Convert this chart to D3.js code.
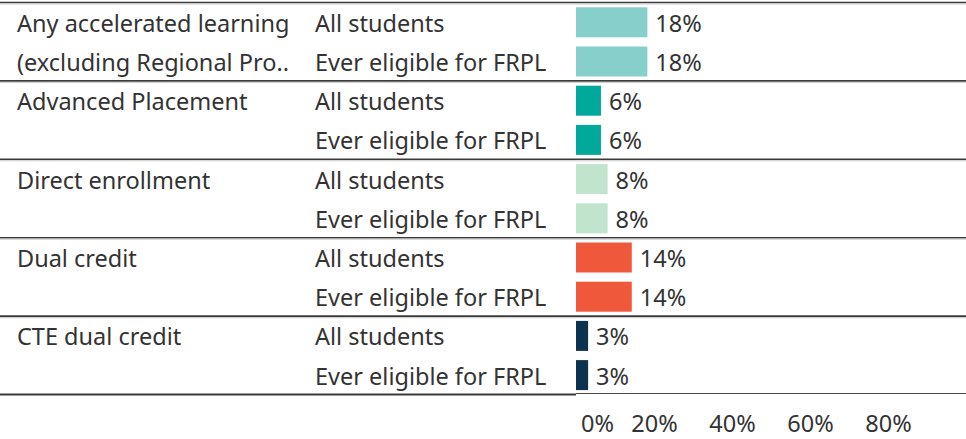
<!DOCTYPE html>
<html><head><meta charset="utf-8">
<script src="https://cdn.jsdelivr.net/npm/d3@7"></script>
<style>
html,body{margin:0;padding:0;background:#fff;}
svg{display:block;font-family:"Noto Sans",sans-serif;}
</style></head>
<body><svg id="chart" width="966" height="439"></svg>
<script>
const categories = [
  "Any accelerated learning\n(excluding Regional Pro..",
  "Advanced Placement",
  "Direct enrollment",
  "Dual credit",
  "CTE dual credit"
];
const groups = ["All students", "Ever eligible for FRPL"];
const valuesAll = [18.3, 6.4, 8.1, 14.3, 3.1];
const valuesFRPL = [18.3, 6.4, 8.1, 14.3, 3.1];
const labelsAll = ["18%", "6%", "8%", "14%", "3%"];
const labelsFRPL = ["18%", "6%", "8%", "14%", "3%"];
const colors = ["#86cfca", "#00a99b", "#c1e4cd", "#f0583b", "#0b3350"];
const tickValues = [0, 20, 40, 60, 80];

(function () {
const svg = d3.select("#chart");
const W = 966;
const topY = 2, bottomY = 394, paneLeft = 576;

const rows = [];
categories.forEach((c, i) => {
  rows.push({cat: i, grp: 0, v: valuesAll[i], lab: labelsAll[i]});
  rows.push({cat: i, grp: 1, v: valuesFRPL[i], lab: labelsFRPL[i]});
});

const yCat = d3.scaleBand().domain(d3.range(categories.length)).range([topY, bottomY]);
const yRow = d3.scaleBand().domain(d3.range(rows.length)).range([topY, bottomY]).paddingInner(0.235).paddingOuter(0.1175);
const x = d3.scaleLinear().domain([0, 100]).range([paneLeft, W]);

// separator lines
const seps = d3.range(categories.length).map(i => yCat(i));
svg.selectAll("line.sep").data(seps).join("line").attr("class", "sep")
  .attr("x1", 0).attr("x2", W)
  .attr("y1", d => d + 0.5).attr("y2", d => d + 0.5)
  .attr("stroke", "#3a3a3a").attr("stroke-width", 1.6);
svg.selectAll("line.sep2").data(seps).join("line").attr("class", "sep2")
  .attr("x1", 0).attr("x2", W)
  .attr("y1", d => d + 2).attr("y2", d => d + 2)
  .attr("stroke", "#c8c8c8").attr("stroke-width", 1);
svg.append("line").attr("x1", 0).attr("x2", paneLeft).attr("y1", bottomY + 0.5).attr("y2", bottomY + 0.5)
  .attr("stroke", "#3a3a3a").attr("stroke-width", 2);
svg.append("line").attr("x1", paneLeft).attr("x2", W).attr("y1", bottomY - 0.5).attr("y2", bottomY - 0.5)
  .attr("stroke", "#4a4a4a").attr("stroke-width", 1.2);

// bars
svg.selectAll("rect.bar").data(rows).join("rect").attr("class", "bar")
  .attr("x", x(0))
  .attr("y", (d, i) => yRow(i) + 0.7)
  .attr("width", d => x(d.v) - x(0))
  .attr("height", yRow.bandwidth())
  .attr("fill", d => colors[d.cat]);

const textColor = "#333333";
const fs = 23.5;

// value labels
svg.selectAll("text.val").data(rows).join("text").attr("class", "val")
  .attr("x", d => x(d.v) + 8)
  .attr("y", (d, i) => yRow(i) + yRow.bandwidth() / 2 + 2)
  .attr("dy", "0.35em")
  .attr("font-size", fs).attr("fill", textColor)
  .text(d => d.lab);

// sub labels
svg.selectAll("text.sub").data(rows).join("text").attr("class", "sub")
  .attr("x", 315)
  .attr("y", (d, i) => yRow(i) + yRow.bandwidth() / 2 + 2)
  .attr("dy", "0.35em")
  .attr("font-size", fs).attr("fill", textColor)
  .text(d => groups[d.grp]);

// category labels
categories.forEach((c, i) => {
  const lines = c.split("\n");
  lines.forEach((ln, j) => {
    svg.append("text")
      .attr("x", 17)
      .attr("y", yRow(i * 2 + j) + yRow.bandwidth() / 2 + 2)
      .attr("dy", "0.35em")
      .attr("font-size", fs).attr("fill", textColor)
      .text(ln);
  });
});

// axis
const ax = svg.append("g").attr("transform", `translate(0,${bottomY + 18})`)
  .call(d3.axisBottom(x).tickValues(tickValues).tickFormat(d => d + "%").tickSize(0));
ax.select(".domain").remove();
ax.selectAll("text").attr("font-size", fs).attr("fill", textColor).attr("font-family", "Noto Sans, sans-serif");
ax.selectAll(".tick").filter(d => d === 0).select("text").attr("dx", 21);
})();
</script></body></html>
